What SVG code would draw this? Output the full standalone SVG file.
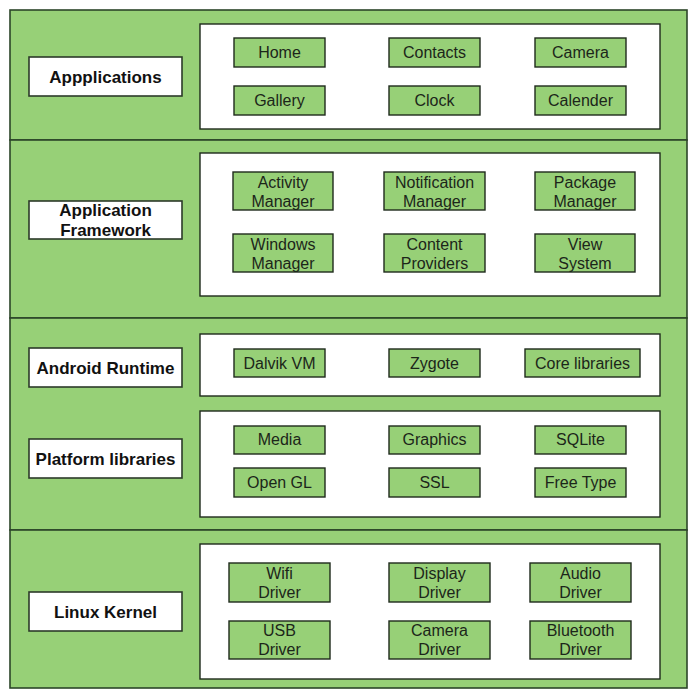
<svg xmlns="http://www.w3.org/2000/svg" width="700" height="698" viewBox="0 0 700 698">
<style>
.sec{fill:#97d077;stroke:#2c4528;stroke-width:1.6}
.pan{fill:#ffffff;stroke:#1e2a1c;stroke-width:1.4}
.lbl{fill:#ffffff;stroke:#2c3a2a;stroke-width:1.6}
.box{fill:#97d077;stroke:#1e2a1c;stroke-width:1.4}
.lt{font-family:"Liberation Sans",Arial,sans-serif;font-size:17px;font-weight:bold;fill:#111;text-anchor:middle}
.bt{font-family:"Liberation Sans",Arial,sans-serif;font-size:16px;fill:#1c261a;text-anchor:middle}
</style>
<rect width="700" height="698" fill="#ffffff"/>
<g id="sections">
<rect class="sec" x="10" y="10" width="677" height="130"/>
<rect class="sec" x="10" y="140" width="677" height="178"/>
<rect class="sec" x="10" y="318" width="677" height="212"/>
<rect class="sec" x="10" y="530" width="677" height="158"/>
</g>
<g id="panels">
<rect class="pan" x="200" y="24" width="460" height="105"/>
<rect class="pan" x="200" y="153" width="460" height="143"/>
<rect class="pan" x="200" y="334" width="460" height="62"/>
<rect class="pan" x="200" y="411" width="460" height="106"/>
<rect class="pan" x="200" y="544" width="460" height="135"/>
</g>
<g id="lbl-applications"><rect class="lbl" x="29" y="57" width="153" height="39"/><text class="lt" x="105.5" y="83">Appplications</text></g>
<g id="lbl-framework"><rect class="lbl" x="29" y="201" width="153" height="38"/><text class="lt" x="105.5" y="216">Application</text><text class="lt" x="105.5" y="236">Framework</text></g>
<g id="lbl-runtime"><rect class="lbl" x="29" y="348" width="153" height="39"/><text class="lt" x="105.5" y="374">Android Runtime</text></g>
<g id="lbl-platform"><rect class="lbl" x="29" y="439" width="153" height="39"/><text class="lt" x="105.5" y="465">Platform libraries</text></g>
<g id="lbl-kernel"><rect class="lbl" x="29" y="592" width="153" height="39"/><text class="lt" x="105.5" y="618">Linux Kernel</text></g>

<g id="home"><rect class="box" x="234" y="38" width="91" height="29"/><text class="bt" x="279.5" y="58">Home</text></g>
<g id="contacts"><rect class="box" x="389" y="38" width="91" height="29"/><text class="bt" x="434.5" y="58">Contacts</text></g>
<g id="camera"><rect class="box" x="535" y="38" width="91" height="29"/><text class="bt" x="580.5" y="58">Camera</text></g>
<g id="gallery"><rect class="box" x="234" y="86" width="91" height="29"/><text class="bt" x="279.5" y="106">Gallery</text></g>
<g id="clock"><rect class="box" x="389" y="86" width="91" height="29"/><text class="bt" x="434.5" y="106">Clock</text></g>
<g id="calender"><rect class="box" x="535" y="86" width="91" height="29"/><text class="bt" x="580.5" y="106">Calender</text></g>

<g id="activity"><rect class="box" x="233" y="172" width="100" height="38"/><text class="bt" x="283" y="187.5">Activity</text><text class="bt" x="283" y="206.5">Manager</text></g>
<g id="notification"><rect class="box" x="384" y="172" width="101" height="38"/><text class="bt" x="434.5" y="187.5">Notification</text><text class="bt" x="434.5" y="206.5">Manager</text></g>
<g id="package"><rect class="box" x="535" y="172" width="100" height="38"/><text class="bt" x="585" y="187.5">Package</text><text class="bt" x="585" y="206.5">Manager</text></g>
<g id="windows"><rect class="box" x="233" y="234" width="100" height="38"/><text class="bt" x="283" y="249.5">Windows</text><text class="bt" x="283" y="268.5">Manager</text></g>
<g id="content"><rect class="box" x="384" y="234" width="101" height="38"/><text class="bt" x="434.5" y="249.5">Content</text><text class="bt" x="434.5" y="268.5">Providers</text></g>
<g id="view"><rect class="box" x="535" y="234" width="100" height="38"/><text class="bt" x="585" y="249.5">View</text><text class="bt" x="585" y="268.5">System</text></g>

<g id="dalvik"><rect class="box" x="234" y="349" width="91" height="28"/><text class="bt" x="279.5" y="369">Dalvik VM</text></g>
<g id="zygote"><rect class="box" x="389" y="349" width="91" height="28"/><text class="bt" x="434.5" y="369">Zygote</text></g>
<g id="core"><rect class="box" x="525" y="349" width="115" height="28"/><text class="bt" x="582.5" y="369">Core libraries</text></g>

<g id="media"><rect class="box" x="234" y="426" width="91" height="28"/><text class="bt" x="279.5" y="445">Media</text></g>
<g id="graphics"><rect class="box" x="389" y="426" width="91" height="28"/><text class="bt" x="434.5" y="445">Graphics</text></g>
<g id="sqlite"><rect class="box" x="535" y="426" width="91" height="28"/><text class="bt" x="580.5" y="445">SQLite</text></g>
<g id="opengl"><rect class="box" x="234" y="468" width="91" height="29"/><text class="bt" x="279.5" y="488">Open GL</text></g>
<g id="ssl"><rect class="box" x="389" y="468" width="91" height="29"/><text class="bt" x="434.5" y="488">SSL</text></g>
<g id="freetype"><rect class="box" x="535" y="468" width="91" height="29"/><text class="bt" x="580.5" y="488">Free Type</text></g>

<g id="wifi"><rect class="box" x="229" y="563" width="101" height="39"/><text class="bt" x="279.5" y="579">Wifi</text><text class="bt" x="279.5" y="598">Driver</text></g>
<g id="display"><rect class="box" x="389" y="563" width="101" height="39"/><text class="bt" x="439.5" y="579">Display</text><text class="bt" x="439.5" y="598">Driver</text></g>
<g id="audio"><rect class="box" x="530" y="563" width="101" height="39"/><text class="bt" x="580.5" y="579">Audio</text><text class="bt" x="580.5" y="598">Driver</text></g>
<g id="usb"><rect class="box" x="229" y="621" width="101" height="38"/><text class="bt" x="279.5" y="636">USB</text><text class="bt" x="279.5" y="655">Driver</text></g>
<g id="cameradrv"><rect class="box" x="389" y="621" width="101" height="38"/><text class="bt" x="439.5" y="636">Camera</text><text class="bt" x="439.5" y="655">Driver</text></g>
<g id="bluetooth"><rect class="box" x="530" y="621" width="101" height="38"/><text class="bt" x="580.5" y="636">Bluetooth</text><text class="bt" x="580.5" y="655">Driver</text></g>
<g id="connectors"></g>
</svg>
